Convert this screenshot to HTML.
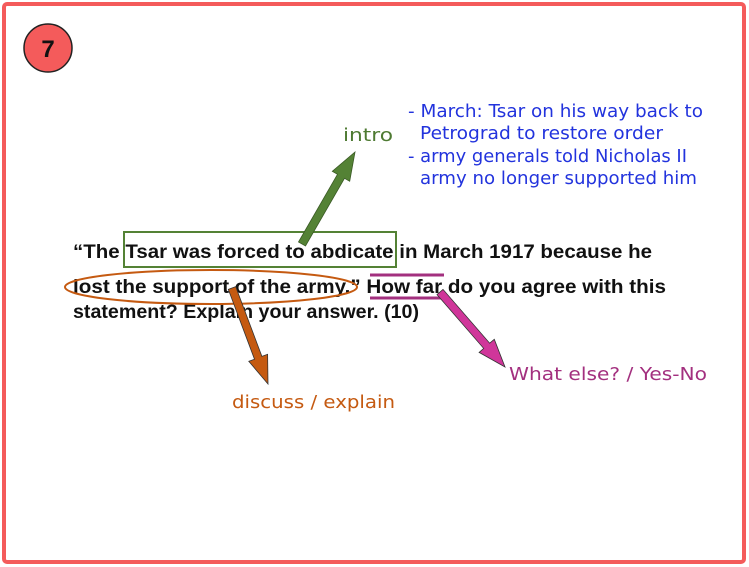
<!DOCTYPE html>
<html><head><meta charset="utf-8"><style>
html,body{margin:0;padding:0;background:#fff;}
svg{display:block;}
.b{font-family:"Liberation Sans",Arial,sans-serif;font-weight:bold;font-size:19.5px;fill:#111;}
.h{font-family:"DejaVu Sans",sans-serif;font-size:18px;}
</style></head><body>
<svg width="749" height="567" viewBox="0 0 749 567">
<rect x="0" y="0" width="749" height="567" fill="#fff"/>
<rect x="4" y="4" width="740" height="558" rx="3" fill="none" stroke="#f45b5b" stroke-width="4"/>
<circle cx="48" cy="48" r="24" fill="#f45b5b" stroke="#222" stroke-width="1.5"/>
<text x="48" y="57" text-anchor="middle" font-family="Liberation Sans,Arial,sans-serif" font-weight="bold" font-size="24" fill="#111">7</text>

<g class="h" fill="#2233dd">
<text x="408" y="117" textLength="295" lengthAdjust="spacingAndGlyphs">- March: Tsar on his way back to</text>
<text x="420" y="139" textLength="243" lengthAdjust="spacingAndGlyphs">Petrograd to restore order</text>
<text x="408" y="162" textLength="279" lengthAdjust="spacingAndGlyphs">- army generals told Nicholas II</text>
<text x="420" y="184" textLength="277" lengthAdjust="spacingAndGlyphs">army no longer supported him</text>
</g>
<text x="343" y="141" class="h" font-size="21" fill="#4e7a32" textLength="50" lengthAdjust="spacingAndGlyphs">intro</text>

<text x="73" y="258" class="b" textLength="579" lengthAdjust="spacingAndGlyphs">“The Tsar was forced to abdicate in March 1917 because he</text>
<text x="73" y="293" class="b" textLength="593" lengthAdjust="spacingAndGlyphs">lost the support of the army.”  How far do you agree with this</text>
<text x="73" y="318" class="b" textLength="346" lengthAdjust="spacingAndGlyphs">statement? Explain your answer. (10)</text>

<rect x="124" y="232" width="272" height="35" fill="none" stroke="#548235" stroke-width="2"/>
<ellipse cx="211" cy="287" rx="146" ry="17" fill="none" stroke="#c55a11" stroke-width="2"/>
<line x1="370" y1="275" x2="444" y2="275" stroke="#a3307f" stroke-width="3"/>
<line x1="370" y1="298" x2="444" y2="298" stroke="#a3307f" stroke-width="3"/>

<polygon points="298.5,242 337.5,174.3 332.3,171.3 355,152 349.7,181.3 344.5,178.3 305.5,246" fill="#548235" stroke="#3a5a25" stroke-width="0.8"/>
<polygon points="228.3,289.4 254.5,359.2 248.8,361.3 268,384 267.6,354.3 261.9,356.4 235.7,286.6" fill="#c55a11" stroke="#333" stroke-width="0.8"/>
<polygon points="437,294.6 483.7,348.4 479.1,352.4 505,367 494.3,339.3 489.7,343.2 443,289.4" fill="#d0369a" stroke="#333" stroke-width="0.8"/>

<text x="232" y="408" class="h" font-size="21" fill="#c55a11" textLength="163" lengthAdjust="spacingAndGlyphs">discuss / explain</text>
<text x="509" y="380" class="h" font-size="21" fill="#a3307f" textLength="198" lengthAdjust="spacingAndGlyphs">What else? / Yes-No</text>
</svg>
</body></html>
